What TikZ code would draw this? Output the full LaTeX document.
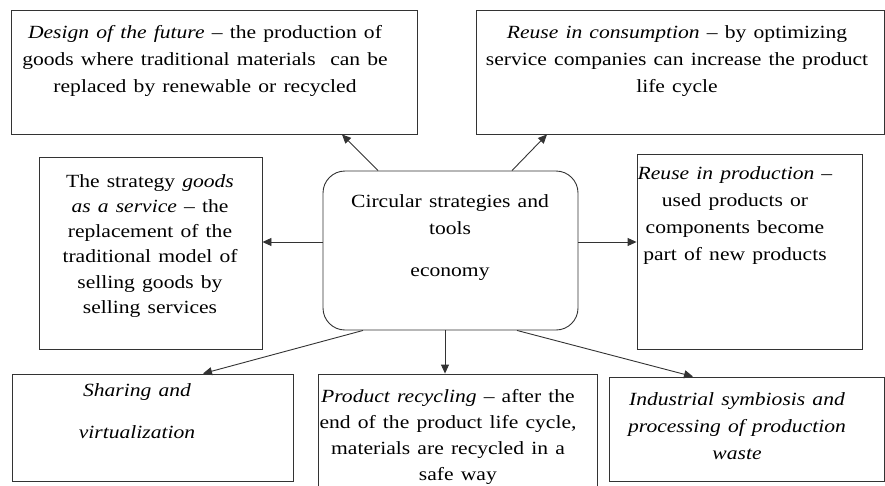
\documentclass[tikz,border=0pt]{standalone}
\usepackage{fontspec}
\setmainfont{Liberation Serif}
\usepackage{tikz}
\usetikzlibrary{arrows.meta}

\begin{document}
\begin{tikzpicture}[x=1pt,y=-1pt,
	box/.style={draw=black!80,line width=0.9pt,inner sep=0pt},
	lbl/.style={anchor=base,align=center,text width=370pt,inner sep=0pt,xscale=1.16,transform shape,font=\fontsize{18.6}{27}\selectfont},
	arr/.style={draw=black!80,line width=0.9pt,-{Triangle[length=9pt,width=8pt]}}]
	\useasboundingbox (0,0) rectangle (885,485);
	\node[box,rounded corners=22pt,minimum width=255pt,minimum height=159pt] (S) at (450.5,250.5) {};
	\node[box,minimum width=406pt,minimum height=124pt] (F) at (214,72) {};
	\node[box,minimum width=408pt,minimum height=124pt] (Rc) at (680,72) {};
	\node[box,minimum width=223pt,minimum height=192pt] (G) at (150.5,253) {};
	\node[box,minimum width=225pt,minimum height=195pt] (Rp) at (749.5,251.5) {};
	\node[box,minimum width=281pt,minimum height=107pt] (Sh) at (152.5,427.5) {};
	\node[box,minimum width=279pt,minimum height=121pt] (Pr) at (457.5,434.5) {};
	\node[box,minimum width=275pt,minimum height=104pt] (I) at (746.5,429) {};
	\node[lbl] (tS) at (450,207) {Circular strategies and\\ tools\\[15pt] economy};
	\node[lbl] (tF) at (205,38) {\textit{Design of the future} -- the production of\\ goods where traditional materials\ \ can be\\ replaced by renewable or recycled};
	\node[lbl] (tRc) at (677,38) {\textit{Reuse in consumption} -- by optimizing\\ service companies can increase the product\\ life cycle};
	\node[lbl,font=\fontsize{18.6}{25.3}\selectfont] (tG) at (150,187) {The strategy \textit{goods}\\ \textit{as a service} -- the\\ replacement of the\\ traditional model of\\ selling goods by\\ selling services};
	\node[lbl] (tRp) at (735,179) {\textit{Reuse in production} --\\ used products or\\ components become\\ part of new products};
	\node[lbl,font=\fontsize{18.6}{42}\selectfont] (tSh) at (137,396) {\textit{Sharing and}\\ \textit{virtualization}};
	\node[lbl,font=\fontsize{18.6}{26}\selectfont] (tPr) at (448,402) {\textit{Product recycling} -- after the\\ end of the product life cycle,\\ materials are recycled in a\\ \hspace*{17pt}safe way};
	\node[lbl] (tI) at (737,405) {\textit{Industrial symbiosis and}\\ \textit{processing of production}\\ \textit{waste}};
	\draw[arr] ([xshift=-72.5pt]S.north) -- ([xshift=128pt]F.south);
	\draw[arr] ([xshift=61.5pt]S.north) -- ([xshift=-133pt]Rc.south);
	\draw[arr] ([yshift=8.5pt]S.west) -- ([yshift=8.5pt]S.west -| G.east);
	\draw[arr] ([yshift=8.5pt]S.east) -- ([yshift=8.5pt]S.east -| Rp.west);
	\draw[arr] ([xshift=-87.5pt]S.south) -- ([xshift=50.5pt]Sh.north);
	\draw[arr] ([xshift=-5.5pt]S.south) -- ([xshift=-5.5pt]S.south |- Pr.north);
	\draw[arr] ([xshift=66.5pt]S.south) -- ([xshift=-53.5pt]I.north);
\end{tikzpicture}
\end{document}
